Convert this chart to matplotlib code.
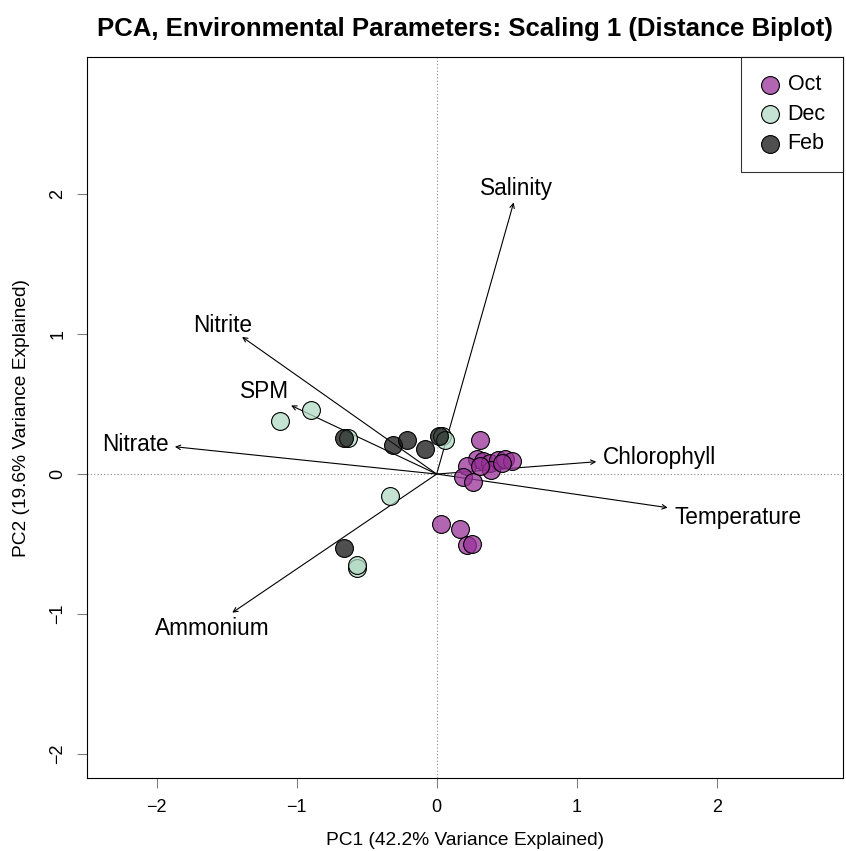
import matplotlib.pyplot as plt

plt.rcParams['font.family'] = ['Liberation Sans', 'DejaVu Sans']

# scores per sampling month (PC1, PC2)
oct_x = [0.31, 0.29, 0.22, 0.33, 0.38, 0.44, 0.49, 0.54, 0.39, 0.19, 0.26, 0.31, 0.47,
         0.03, 0.17, 0.22, 0.25]
oct_y = [0.24, 0.11, 0.06, 0.09, 0.08, 0.10, 0.11, 0.09, 0.03, -0.02, -0.06, 0.06, 0.08,
         -0.36, -0.39, -0.51, -0.50]
feb_x = [-0.66, -0.31, -0.21, -0.08, -0.66, 0.02]
feb_y = [0.26, 0.21, 0.24, 0.18, -0.53, 0.27]
dec_x = [-1.12, -0.90, -0.63, -0.33, -0.57, -0.57, 0.04, 0.06]
dec_y = [0.38, 0.46, 0.26, -0.16, -0.67, -0.65, 0.27, 0.24]

# environmental loadings (arrow tips) and label positions
variables = ['Salinity', 'Nitrite', 'SPM', 'Nitrate', 'Ammonium', 'Chlorophyll', 'Temperature']
arrow_x = [0.55, -1.39, -1.04, -1.87, -1.46, 1.14, 1.65]
arrow_y = [1.94, 0.98, 0.49, 0.195, -0.99, 0.088, -0.24]
label_x = [0.57, -1.53, -1.23, -2.15, -1.60, 1.59, 2.15]
label_y = [2.04, 1.06, 0.59, 0.21, -1.10, 0.12, -0.31]

fig = plt.figure(figsize=(8.46, 8.51), dpi=100)
ax = fig.add_axes([0.1028, 0.0858, 0.8936, 0.8472])

ax.axvline(0, color='#888888', linestyle=(0, (1, 2)), linewidth=0.8, zorder=1)
ax.axhline(0, color='#888888', linestyle=(0, (1, 2)), linewidth=0.8, zorder=1)

# arrows
for vx, vy in zip(arrow_x, arrow_y):
    ax.annotate('', xy=(vx, vy), xytext=(0, 0),
                arrowprops=dict(arrowstyle='->', color='black', lw=0.8,
                                mutation_scale=8, shrinkA=0, shrinkB=0), zorder=2)
for name, lx, ly in zip(variables, label_x, label_y):
    ax.text(lx, ly, name, ha='center', va='center', fontsize=16.3, zorder=4)

# points
kw = dict(s=165, edgecolors='black', linewidths=0.8, zorder=3)
ax.scatter(dec_x, dec_y, c=[(178/255, 218/255, 196/255, 0.75)], label='Dec', **kw)
ax.scatter(feb_x, feb_y, c=[(20/255, 20/255, 20/255, 0.75)], label='Feb', **kw)
ax.scatter(oct_x, oct_y, c=[(153/255, 51/255, 153/255, 0.75)], label='Oct', **kw)

ax.set_xlim(-2.498, 2.902)
ax.set_ylim(-2.171, 2.979)
ax.set_xticks([-2, -1, 0, 1, 2])
ax.set_yticks([-2, -1, 0, 1, 2])
ax.set_xticklabels(['\u22122', '\u22121', '0', '1', '2'], fontsize=13)
ax.set_yticklabels(['\u22122', '\u22121', '0', '1', '2'], fontsize=13, rotation=90, va='center')
ax.tick_params(length=7, color='gray', pad=8)

ax.set_xlabel('PC1 (42.2% Variance Explained)', fontsize=13.8, labelpad=12)
ax.set_ylabel('PC2 (19.6% Variance Explained)', fontsize=13.8, labelpad=14)
ax.set_title('PCA, Environmental Parameters: Scaling 1 (Distance Biplot)',
             fontsize=18.5, fontweight='bold', pad=15)

handles, labels = ax.get_legend_handles_labels()
order = [2, 0, 1]
leg = ax.legend([handles[i] for i in order], [labels[i] for i in order],
                loc='upper right', fontsize=15.5, frameon=True, fancybox=False,
                edgecolor='black', borderaxespad=0, handletextpad=0.25,
                labelspacing=0.4, borderpad=0.8, handlelength=1.1, markerscale=1.0)
leg.get_frame().set_linewidth(0.8)

fig.savefig('out.png', dpi=100)
